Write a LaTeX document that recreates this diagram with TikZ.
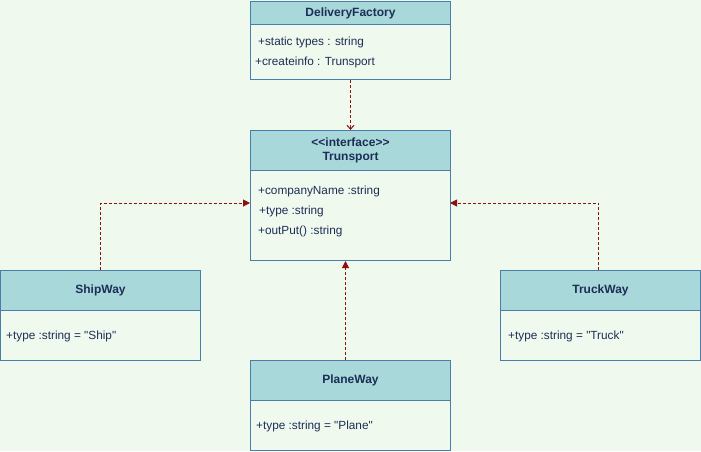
\documentclass[tikz,border=0pt]{standalone}
\usepackage{fontspec}
\setmainfont{Liberation Sans}
\newfontfamily\af{Liberation Sans}
\usetikzlibrary{arrows.meta}
\definecolor{bgc}{HTML}{F0F9EE}
\definecolor{hdrc}{HTML}{A8D8DA}
\definecolor{brd}{HTML}{4A7EAA}
\definecolor{txt}{HTML}{1C2E55}
\definecolor{arr}{HTML}{8B1010}
\begin{document}
\begin{tikzpicture}[x=1pt,y=-1pt,
  hdr/.style={draw=brd, fill=hdrc, line width=1pt, inner sep=0pt, anchor=north west,
    minimum width=200pt, font=\af\fontsize{12}{14}\selectfont\bfseries, text=txt, align=center},
  bodybox/.style={draw=brd, fill=bgc, line width=1pt, inner sep=0pt, anchor=north west,
    minimum width=200pt},
  attr/.style={anchor=west, inner sep=0pt, text=txt, font=\af\fontsize{11.8}{13}\selectfont},
  dep/.style={draw=arr, line width=1pt, dash pattern=on 3pt off 2pt},
  tri/.style={-{Triangle[length=7pt,width=7pt]}},
  barb/.style={-{Straight Barb[length=4pt,width=7pt]}}
]
\fill[bgc] (0,0) rectangle (701,451);
\useasboundingbox (0,0) rectangle (701,451);

% DeliveryFactory
\node[bodybox, minimum height=55pt] (dfb) at (250,24) {};
\node[hdr, minimum height=23pt] (dfh) at (250,1) {DeliveryFactory};
\node[attr] (df1) at (258,42) {+static types : string};
\node[attr] (df2) at (255,62) {+createinfo : Trunsport};

% Transport
\node[bodybox, minimum height=90pt] (trb) at (250,170) {};
\node[hdr, minimum height=40pt] (trh) at (250,130) {<{}<interface>{}>\\ Trunsport};
\node[attr] (tr1) at (258,191) {+companyName :string};
\node[attr] (tr2) at (259,211) {+type :string};
\node[attr] (tr3) at (258,231) {+outPut() :string};

% ShipWay
\node[bodybox, minimum height=50pt] (shb) at (0,310) {};
\node[hdr, minimum height=40pt] (shh) at (0,270) {ShipWay};
\node[attr] (sh1) at (6,336) {+type :string = "Ship"};

% TruckWay
\node[bodybox, minimum height=50pt] (tkb) at (500,310) {};
\node[hdr, minimum height=40pt] (tkh) at (500,270) {TruckWay};
\node[attr] (tk1) at (508,336) {+type :string = "Truck"};

% PlaneWay
\node[bodybox, minimum height=50pt] (plb) at (250,400) {};
\node[hdr, minimum height=40pt] (plh) at (250,360) {PlaneWay};
\node[attr] (pl1) at (256,426) {+type :string = "Plane"};

% connectors
\coordinate (tl) at (250,203);
\coordinate (tr) at (450,203);
\draw[dep, barb] (dfb.south) -- (trh.north);
\draw[dep, tri] (shh.north) |- (tl);
\draw[dep, tri] ([xshift=-2pt]tkh.north) |- (tr);
\draw[dep, tri] ([xshift=-5pt]plh.north) -- ([xshift=-5pt]trb.south);
\end{tikzpicture}
\end{document}
